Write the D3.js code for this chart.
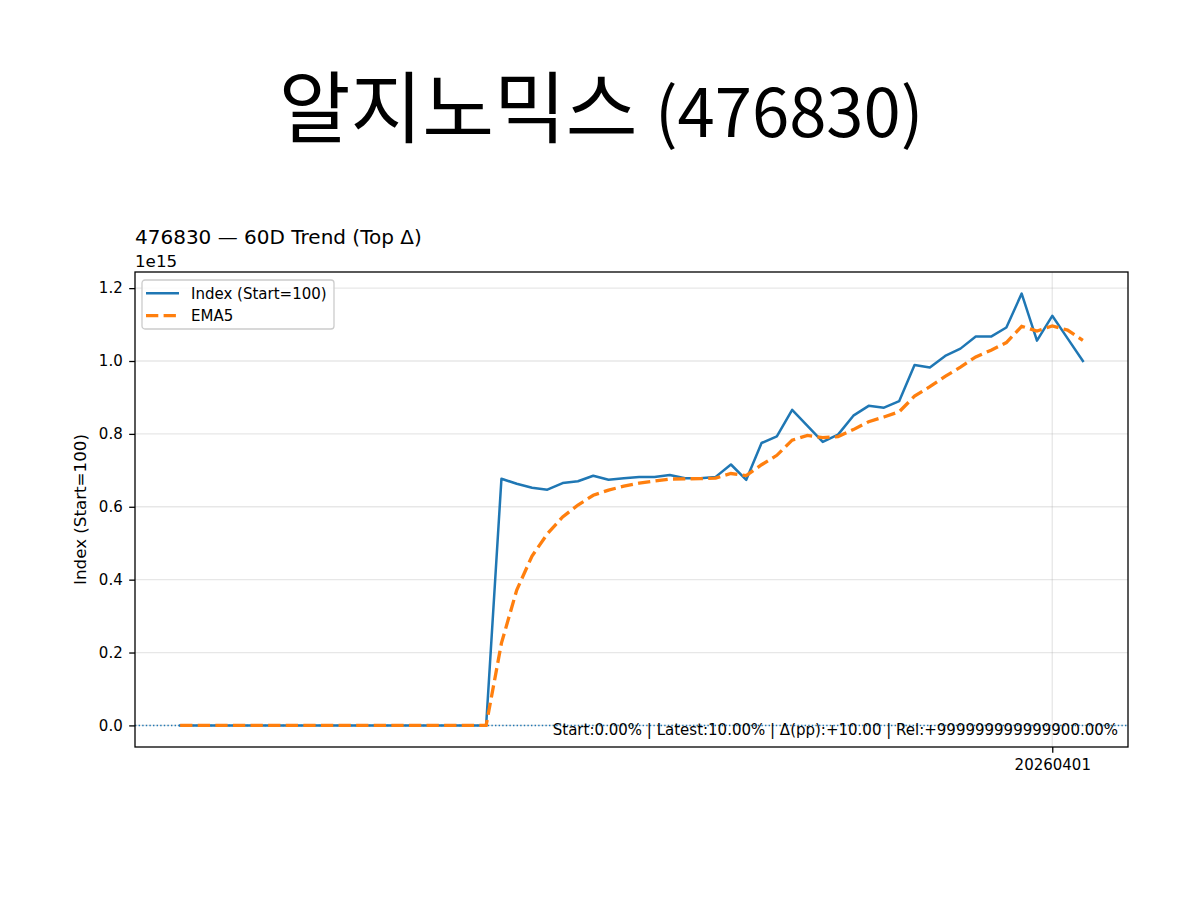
<!DOCTYPE html>
<html>
<head>
<meta charset="utf-8">
<script src="https://cdn.jsdelivr.net/npm/d3@7"></script>
<style>
  body { margin: 0; background: #fff; }
  svg text { font-family: "DejaVu Sans", sans-serif; fill: #000; }
</style>
</head>
<body>
<svg id="chart" width="1200" height="900"></svg>
<script>
// Values (Index, Start=100)
const indexVals = [
	100, 100, 100, 100, 100, 100, 100, 100, 100, 100,
	100, 100, 100, 100, 100, 100, 100, 100, 100, 100, 100,
	6.77e14, 6.63e14, 6.52e14, 6.47e14, 6.65e14, 6.70e14, 6.85e14, 6.74e14, 6.78e14, 6.82e14,
	6.82e14, 6.87e14, 6.78e14, 6.78e14, 6.82e14, 7.16e14, 6.74e14, 7.75e14, 7.93e14, 8.66e14,
	8.22e14, 7.78e14, 7.98e14, 8.50e14, 8.77e14, 8.72e14, 8.90e14, 9.89e14, 9.82e14, 1.014e15,
	1.034e15, 1.067e15, 1.067e15, 1.092e15, 1.185e15, 1.056e15, 1.124e15, 1.062e15, 1.000e15
];
const emaVals = [
	100, 100, 100, 100, 100, 100, 100, 100, 100, 100,
	100, 100, 100, 100, 100, 100, 100, 100, 100, 100, 100,
	2.257e14, 3.715e14, 4.650e14, 5.257e14, 5.722e14, 6.048e14, 6.315e14, 6.457e14, 6.565e14, 6.650e14,
	6.706e14, 6.761e14, 6.767e14, 6.771e14, 6.787e14, 6.912e14, 6.855e14, 7.153e14, 7.412e14, 7.828e14,
	7.959e14, 7.899e14, 7.926e14, 8.117e14, 8.334e14, 8.463e14, 8.609e14, 9.036e14, 9.297e14, 9.578e14,
	9.832e14, 1.0112e15, 1.0298e15, 1.0505e15, 1.0953e15, 1.0822e15, 1.0962e15, 1.0848e15, 1.0565e15
];
const xTickIdx = [57];
const xTickLabels = ["20260401"];
const yTicks = [0, 0.2e15, 0.4e15, 0.6e15, 0.8e15, 1.0e15, 1.2e15];
const seriesNames = ["Index (Start=100)", "EMA5"];
const noteText = "Start:0.00% | Latest:10.00% | Δ(pp):+10.00 | Rel:+999999999999900.00%";

const svg = d3.select('#chart');
const margin = {left: 135, right: 72, top: 272, bottom: 153};
const innerWidth = 1200 - margin.left - margin.right;
const innerHeight = 900 - margin.top - margin.bottom;

// matplotlib style 5% padding on both axes
const n = indexVals.length;
const xPad = (n - 1) * 0.05;
const xScale = d3.scaleLinear().domain([-xPad, n - 1 + xPad]).range([0, innerWidth]);

const yMax = d3.max(indexVals.concat(emaVals));
const yMin = 0;
const yPad = (yMax - yMin) * 0.05;
const yScale = d3.scaleLinear().domain([yMin - yPad, yMax + yPad]).range([innerHeight, 0]);

// Big title (hangul drawn a bit larger than the digits, like the original font)
const title = svg.append('text')
	.attr('x', 601).attr('y', 137)
	.attr('text-anchor', 'middle')
	.style('font-family', '"Noto Sans CJK KR", sans-serif');
title.append('tspan').style('font-size', '78px').text('알지노믹스 ');
title.append('tspan').style('font-size', '67px').text('(476830)');

// Axes title + offset text
svg.append('text')
	.attr('x', margin.left).attr('y', 244)
	.style('font-size', '20px')
	.text('476830 — 60D Trend (Top Δ)');

svg.append('text')
	.attr('x', margin.left).attr('y', 267)
	.style('font-size', '16.7px')
	.text('1e15');

const g = svg.append('g').attr('transform', `translate(${margin.left},${margin.top})`);

// grid lines
g.append('g').selectAll('line').data(yTicks).join('line')
	.attr('x1', 0).attr('x2', innerWidth)
	.attr('y1', d => yScale(d)).attr('y2', d => yScale(d))
	.attr('stroke', '#b0b0b0').attr('stroke-opacity', 0.3).attr('stroke-width', 1.3);
g.append('g').selectAll('line').data(xTickIdx).join('line')
	.attr('y1', 0).attr('y2', innerHeight)
	.attr('x1', d => xScale(d)).attr('x2', d => xScale(d))
	.attr('stroke', '#b0b0b0').attr('stroke-opacity', 0.3).attr('stroke-width', 1.3);

// zero reference line (dotted), snapped to the pixel grid so the dots stay blue
const zeroY = Math.round(yScale(0)) + 0.5;
g.append('line')
	.attr('x1', 0).attr('x2', innerWidth)
	.attr('y1', zeroY).attr('y2', zeroY)
	.attr('stroke', '#1f77b4').attr('stroke-width', 1.5)
	.attr('stroke-dasharray', '1.4,2.2');

// lines
const line = d3.line().x((d, i) => xScale(i)).y(d => yScale(d));

g.append('path').datum(indexVals)
	.attr('d', line)
	.attr('fill', 'none').attr('stroke', '#1f77b4')
	.attr('stroke-width', 2.5).attr('stroke-linejoin', 'round').attr('stroke-linecap', 'square');

g.append('path').datum(emaVals)
	.attr('d', line)
	.attr('fill', 'none').attr('stroke', '#ff7f0e')
	.attr('stroke-width', 3.3).attr('stroke-dasharray', '12.3,5.3');

// annotation text
g.append('text')
	.attr('x', innerWidth * 0.99).attr('y', innerHeight - 12)
	.attr('text-anchor', 'end')
	.style('font-size', '15px')
	.text(noteText);

// y axis
const yAxis = d3.axisLeft(yScale)
	.tickValues(yTicks)
	.tickSize(5.8).tickPadding(6.5)
	.tickFormat(d => (d / 1e15).toFixed(1));
const yG = g.append('g').attr('class', 'y axis').call(yAxis);
yG.select('.domain').remove();
yG.selectAll('.tick line').attr('stroke', '#000').attr('stroke-width', 1.3);
yG.selectAll('.tick text').style('font-size', '15px').style('font-family', '"DejaVu Sans", sans-serif').attr('fill', '#000');

// x axis
const xAxis = d3.axisBottom(xScale)
	.tickValues(xTickIdx)
	.tickSize(5.8).tickPadding(6.5)
	.tickFormat((d, i) => xTickLabels[i]);
const xG = g.append('g').attr('class', 'x axis')
	.attr('transform', `translate(0,${innerHeight})`).call(xAxis);
xG.select('.domain').remove();
xG.selectAll('.tick line').attr('stroke', '#000').attr('stroke-width', 1.3);
xG.selectAll('.tick text').style('font-size', '15px').style('font-family', '"DejaVu Sans", sans-serif').attr('fill', '#000');

// frame
g.append('rect')
	.attr('width', innerWidth).attr('height', innerHeight)
	.attr('fill', 'none').attr('stroke', '#000').attr('stroke-width', 1.3);

// y label
svg.append('text')
	.attr('transform', `translate(86,${margin.top + innerHeight / 2}) rotate(-90)`)
	.attr('text-anchor', 'middle')
	.style('font-size', '16.7px')
	.text('Index (Start=100)');

// legend
const legend = g.append('g').attr('transform', 'translate(7,8)');
legend.append('rect')
	.attr('width', 192).attr('height', 49).attr('rx', 3)
	.attr('fill', '#fff').attr('fill-opacity', 0.8)
	.attr('stroke', '#cccccc').attr('stroke-width', 1.3);
const legendStyles = [
	{color: '#1f77b4', width: 2.5, dash: null},
	{color: '#ff7f0e', width: 3.3, dash: '12.3,5.3'}
];
seriesNames.forEach((name, i) => {
	const y = 13.3 + i * 22.4;
	legend.append('line')
		.attr('x1', 4).attr('x2', 37).attr('y1', y).attr('y2', y)
		.attr('stroke', legendStyles[i].color)
		.attr('stroke-width', legendStyles[i].width)
		.attr('stroke-dasharray', legendStyles[i].dash);
	legend.append('text')
		.attr('x', 49).attr('y', y + 5.3)
		.style('font-size', '15px')
		.text(name);
});
</script>
</body>
</html>
